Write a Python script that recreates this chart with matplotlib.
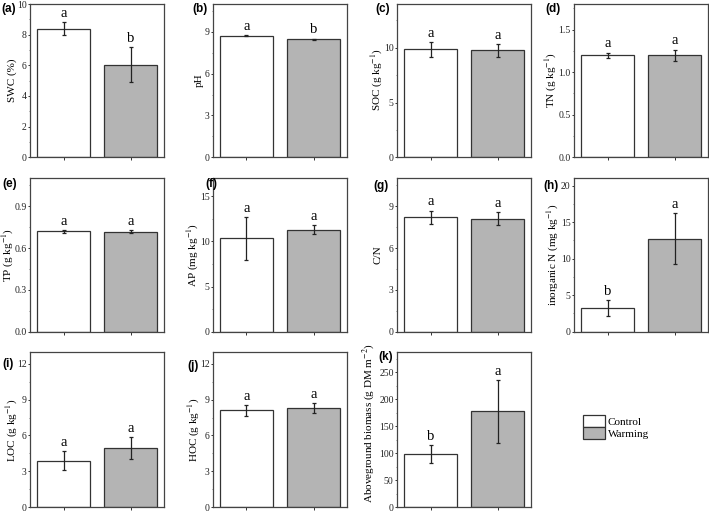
import matplotlib
matplotlib.use("Agg")
import matplotlib.pyplot as plt
from matplotlib.ticker import AutoMinorLocator, FormatStrFormatter
from matplotlib.patches import Patch

plt.rcParams['font.family'] = ['Liberation Serif', 'DejaVu Serif']
plt.rcParams['mathtext.fontset'] = 'stix'

# ---------------- data ----------------
categories = ['Control', 'Warming']

swc_mean = [8.40, 6.05]; swc_err = [0.44, 1.16]; swc_sig = ['a', 'b']
ph_mean = [8.72, 8.48]; ph_err = [0.04, 0.04]; ph_sig = ['a', 'b']
soc_mean = [9.85, 9.78]; soc_err = [0.65, 0.60]; soc_sig = ['a', 'a']
tn_mean = [1.20, 1.20]; tn_err = [0.03, 0.065]; tn_sig = ['a', 'a']
tp_mean = [0.72, 0.718]; tp_err = [0.012, 0.012]; tp_sig = ['a', 'a']
ap_mean = [10.33, 11.30]; ap_err = [2.35, 0.50]; ap_sig = ['a', 'a']
cn_mean = [8.20, 8.10]; cn_err = [0.49, 0.47]; cn_sig = ['a', 'a']
inn_mean = [3.27, 12.75]; inn_err = [1.07, 3.50]; inn_sig = ['b', 'a']
loc_mean = [3.90, 4.95]; loc_err = [0.82, 0.92]; loc_sig = ['a', 'a']
hoc_mean = [8.10, 8.30]; hoc_err = [0.48, 0.45]; hoc_sig = ['a', 'a']
agb_mean = [98, 178]; agb_err = [16.5, 58.5]; agb_sig = ['b', 'a']

panel_tags = ['(a)', '(b)', '(c)', '(d)', '(e)', '(f)', '(g)', '(h)', '(i)', '(j)', '(k)']
ylabels = ['SWC (%)', 'pH', r'SOC (g kg$^{-1}$)', r'TN (g kg$^{-1}$)',
           r'TP (g kg$^{-1}$)', r'AP (mg kg$^{-1}$)', 'C/N', r'inorganic N (mg kg$^{-1}$)',
           r'LOC (g kg$^{-1}$)', r'HOC (g kg$^{-1}$)', r'Aboveground biomass (g DM m$^{-2}$)']
means = [swc_mean, ph_mean, soc_mean, tn_mean, tp_mean, ap_mean, cn_mean, inn_mean,
         loc_mean, hoc_mean, agb_mean]
errs = [swc_err, ph_err, soc_err, tn_err, tp_err, ap_err, cn_err, inn_err,
        loc_err, hoc_err, agb_err]
sigs = [swc_sig, ph_sig, soc_sig, tn_sig, tp_sig, ap_sig, cn_sig, inn_sig,
        loc_sig, hoc_sig, agb_sig]
ytops = [10, 11, 14, 1.8, 1.1, 17, 11, 21, 13, 13, 288]
yticks = [[0, 2, 4, 6, 8, 10], [0, 3, 6, 9], [0, 5, 10], [0, 0.5, 1.0, 1.5],
          [0, 0.3, 0.6, 0.9], [0, 5, 10, 15], [0, 3, 6, 9], [0, 5, 10, 15, 20],
          [0, 3, 6, 9, 12], [0, 3, 6, 9, 12], [0, 50, 100, 150, 200, 250]]
yfmt = ['%g', '%g', '%g', '%.1f', '%.1f', '%g', '%g', '%g', '%g', '%g', '%g']

# ---------------- layout ----------------
W, H = 709, 511
fig = plt.figure(figsize=(W / 100, H / 100), dpi=100)

col_left = [30, 213, 397, 574]
ax_w = 134
rows = [(4, 157.3), (178.3, 331.7), (352, 507)]
tag_pos = [(1, 3), (192, 3), (375, 3), (545, 3),
           (2, 178), (205, 178), (373, 180), (543, 180),
           (2, 358), (187, 360), (378, 351)]
label_x = [12, 199, 377, 551, 8, 193, 378, 553, 12, 194, 369]
label_y = [80, 80, 80, 80, 255, 255, 255, 255, 430, 430, 423]

colors = ['white', '#b4b4b4']
edge = '#333333'

for i in range(11):
    r, c = divmod(i, 4)
    top, bot = rows[r]
    ax = fig.add_axes([col_left[c] / W, 1 - bot / H, ax_w / W, (bot - top) / H])
    x = range(len(categories))
    ax.bar(x, means[i], width=0.8, color=colors, edgecolor=edge, linewidth=0.9, zorder=2)
    ax.errorbar(x, means[i], yerr=errs[i], fmt='none', ecolor='#222222',
                elinewidth=0.9, capsize=1.5, capthick=0.9, zorder=3)
    for xi, m, e, s in zip(x, means[i], errs[i], sigs[i]):
        ax.annotate(s, (xi, m + e), xytext=(0, 1.5), textcoords='offset points',
                    ha='center', va='bottom', fontsize=10.5)
    ax.set_xlim(-0.5, 1.5)
    ax.set_ylim(0, ytops[i])
    ax.set_xticks(list(x))
    ax.set_xticklabels([])
    ax.set_yticks(yticks[i])
    ax.yaxis.set_major_formatter(FormatStrFormatter(yfmt[i]))
    ax.yaxis.set_minor_locator(AutoMinorLocator(2))
    ax.tick_params(axis='both', which='major', direction='out', length=1.8, width=0.7,
                   labelsize=7, pad=0.6, colors='#333333', labelcolor='#222222')
    ax.tick_params(axis='y', which='minor', direction='out', length=1.0, width=0.5,
                   colors='#555555')
    ax.tick_params(axis='x', which='minor', length=0)
    for sp in ax.spines.values():
        sp.set_linewidth(0.9)
        sp.set_color('#444444')
    ax.set_ylabel(ylabels[i], fontsize=8)
    ax.yaxis.label.set_verticalalignment('center')
    ax.yaxis.label.set_horizontalalignment('center')
    ax.yaxis.set_label_coords((label_x[i] - col_left[c]) / ax_w,
                              (bot - label_y[i]) / (bot - top))
    tx, ty = tag_pos[i]
    fig.text(tx / W, 1 - ty / H, panel_tags[i], fontsize=8.5, fontweight='bold',
             family=['Liberation Sans', 'DejaVu Sans'], ha='left', va='top')

handles = [Patch(facecolor=colors[0], edgecolor=edge, linewidth=0.9, label=categories[0]),
           Patch(facecolor=colors[1], edgecolor=edge, linewidth=0.9, label=categories[1])]
fig.legend(handles=handles, loc='upper left', bbox_to_anchor=(582 / W, 1 - 414 / H),
           frameon=False, fontsize=8, handlelength=2.0, handleheight=1.3,
           handletextpad=0.2, labelspacing=0.0, borderaxespad=0, borderpad=0.1)

fig.savefig('out.png', dpi=100)
